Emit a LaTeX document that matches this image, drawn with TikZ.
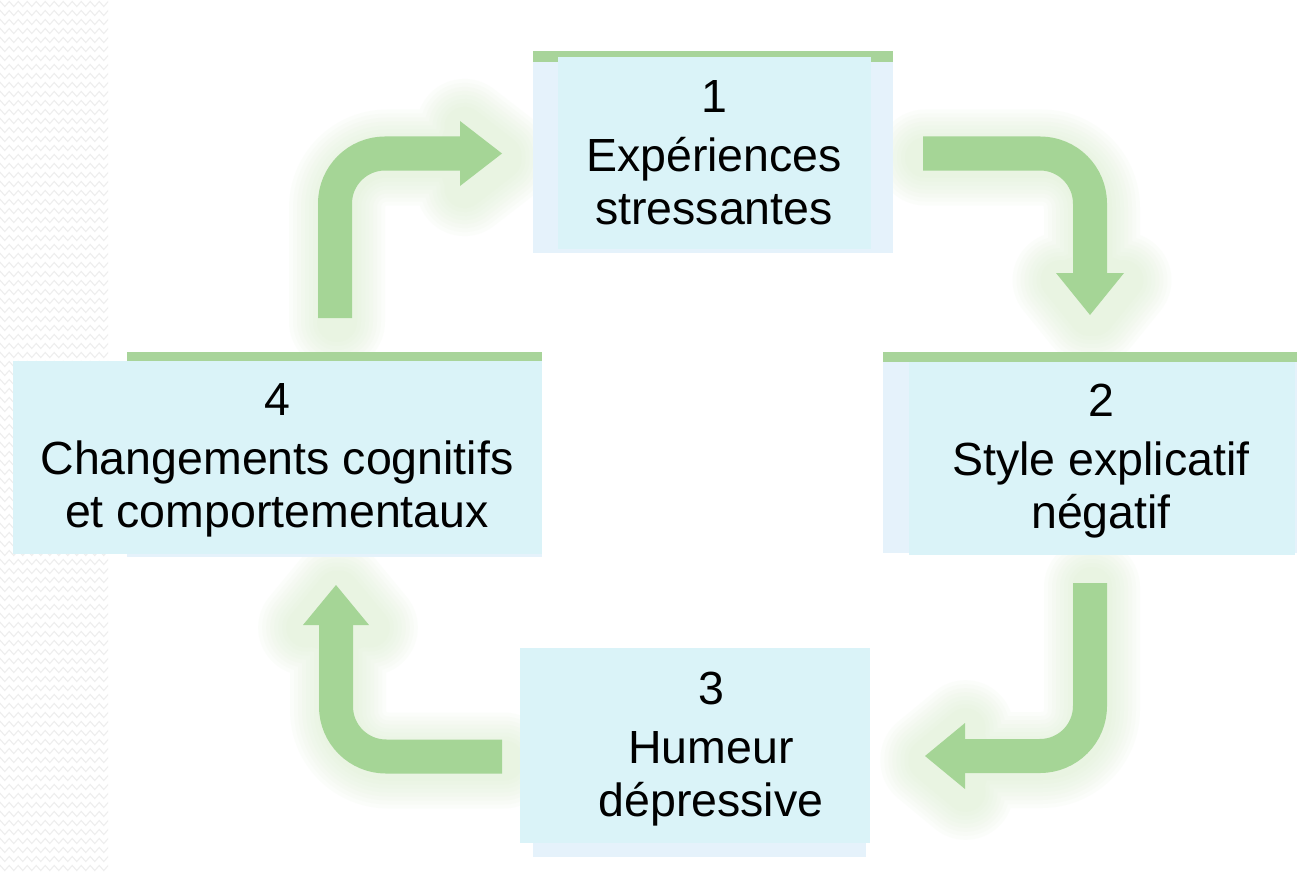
\documentclass[tikz,border=0pt]{standalone}
\usepackage{fontspec}
\setmainfont{Liberation Sans}
\usetikzlibrary{decorations.pathmorphing}
\definecolor{boxfill}{RGB}{218,243,248}
\definecolor{boxback}{RGB}{229,242,251}
\definecolor{bargreen}{RGB}{168,212,154}
\definecolor{arrowgreen}{RGB}{165,213,150}
\definecolor{glowgreen}{RGB}{212,236,196}
\definecolor{patgray}{RGB}{238,238,238}
\begin{document}
\begin{tikzpicture}[x=1pt,y=-1pt,
  boxmain/.style={rectangle, fill=boxfill, inner sep=0pt, draw=none},
  boxlabel/.style={align=center, font=\fontsize{46.5}{53}\selectfont, inner sep=0pt, text=black, anchor=north},
  shaft/.style={draw=arrowgreen, line width=34pt, rounded corners=50pt},
  head/.style={fill=arrowgreen},
  glowstroke/.style={draw=glowgreen, rounded corners=50pt, line join=round, line cap=round, transform canvas={xshift=2pt,yshift=-4pt}},
]
\fill[white] (0,0) rectangle (1301,872);
\useasboundingbox (0,0) rectangle (1301,872);
% background pattern strip
\begin{scope}
  \clip (0,0) rectangle (108,872);
  \foreach \r in {0,...,97}
    \draw[patgray, line width=1.1pt, decorate, decoration={zigzag, segment length=9pt, amplitude=2.5pt}] (-2,\r*9+4) -- (120,\r*9+4);
\end{scope}
% arrow coordinates
\coordinate (a1) at (923,153.5); \coordinate (a2) at (1090,153.5); \coordinate (a3) at (1090,280);
\coordinate (a4) at (1056,273); \coordinate (a5) at (1090,315); \coordinate (a6) at (1124,273);
\coordinate (b1) at (1090,583); \coordinate (b2) at (1090,756); \coordinate (b3) at (958,756);
\coordinate (b4) at (965,723); \coordinate (b5) at (925,756); \coordinate (b6) at (965,789);
\coordinate (c1) at (502,756.5); \coordinate (c2) at (336,756.5); \coordinate (c3) at (336,618);
\coordinate (c4) at (303,625); \coordinate (c5) at (336,585); \coordinate (c6) at (369,625);
\coordinate (d1) at (335,318); \coordinate (d2) at (335,153.5); \coordinate (d3) at (467,153.5);
\coordinate (d4) at (460,121); \coordinate (d5) at (502,153.5); \coordinate (d6) at (460,186);
% soft glow
\foreach \p in {a,b,c,d}{
  \foreach \w in {96,88,80,72,64,56,48,40}{
    \draw[glowstroke, line width=\w pt, opacity=0.07] (\p1) -- (\p2) -- (\p3) (\p4) -- (\p5) -- (\p6) -- cycle;
  }
}
% arrows
\foreach \p in {a,b,c,d}{
  \draw[shaft] (\p1) -- (\p2) -- (\p3);
  \fill[head] (\p4) -- (\p5) -- (\p6) -- cycle;
}
% box 1
\fill[boxback] (533,62) rectangle (893,253);
\fill[bargreen] (533,51) rectangle (893,62);
\node[boxmain, minimum width=313pt, minimum height=192pt] (box1) at (714.5,153) {};
% box 2
\fill[boxback] (883,362) rectangle (1297,553);
\fill[bargreen] (883,352) rectangle (1297,362);
\node[boxmain, minimum width=386pt, minimum height=193pt] (box2) at (1102,458.5) {};
% box 3
\fill[boxback] (533,655) rectangle (866,857);
\node[boxmain, minimum width=350pt, minimum height=195pt] (box3) at (695,745.5) {};
% box 4
\fill[boxback] (127,361) rectangle (542,557);
\fill[bargreen] (127,352) rectangle (542,361);
\node[boxmain, minimum width=529.5pt, minimum height=193pt] (box4) at (277.25,457.5) {};
% texts
\node[boxlabel] (t1) at (714,80) {1\\[6pt]Expériences\\stressantes};
\node[boxlabel] (t2) at (1101,384) {2\\[6pt]Style explicatif\\négatif};
\node[boxlabel] (t3) at (711,672) {3\\[6pt]Humeur\\dépressive};
\node[boxlabel] (t4) at (277,383) {4\\[6pt]Changements cognitifs\\et comportementaux};
\end{tikzpicture}
\end{document}
